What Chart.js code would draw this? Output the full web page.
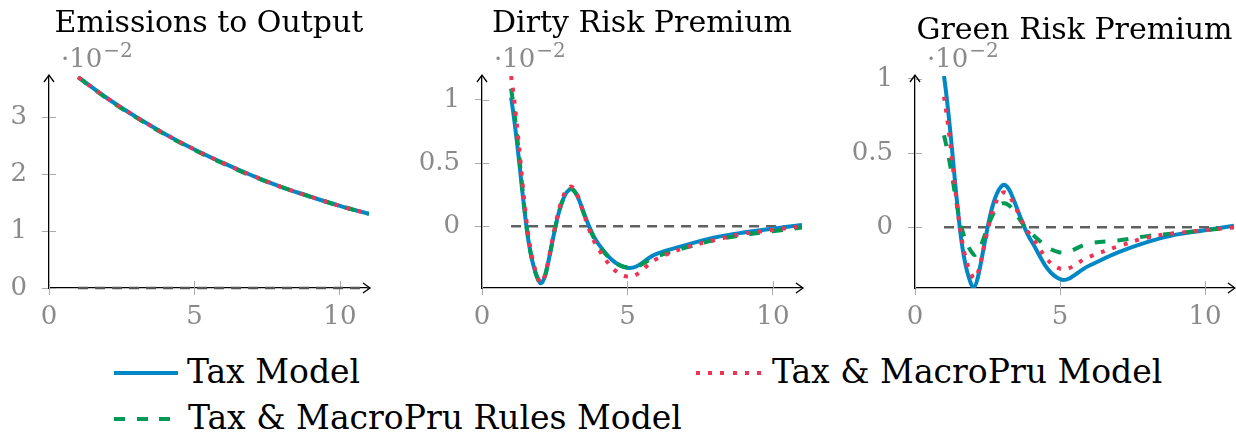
<!DOCTYPE html>
<html>
<head>
<meta charset="utf-8">
<script src="https://cdn.jsdelivr.net/npm/chart.js@4"></script>
<style>
  body { margin: 0; background: #fff; width: 1236px; height: 436px; position: relative; overflow: hidden; }
  canvas { position: absolute; top: 0; }
  .leg { position: absolute; font-family: "DejaVu Serif", serif; font-size: 33px; line-height: 40px; color: #000; white-space: nowrap; }
  .swatch { position: absolute; height: 4px; }
</style>
</head>
<body>
<canvas id="c1" width="412" height="340" style="left:0px"></canvas>
<canvas id="c2" width="412" height="340" style="left:412px"></canvas>
<canvas id="c3" width="412" height="340" style="left:824px"></canvas>

<div class="swatch" style="left:114px; top:371px; width:64px; background:#0088c6"></div>
<div class="leg" style="left:187px; top:352px">Tax Model</div>
<div class="swatch" style="left:696px; top:371px; width:66px; background:repeating-linear-gradient(90deg, #ee3355 0 4px, transparent 4px 12.2px)"></div>
<div class="leg" style="left:772px; top:352px">Tax &amp; MacroPru Model</div>
<div class="swatch" style="left:114px; top:417px; width:57px; background:repeating-linear-gradient(90deg, #009955 0 11px, transparent 11px 22.7px)"></div>
<div class="leg" style="left:188px; top:398px">Tax &amp; MacroPru Rules Model</div>

<script>
// horizon (quarters)
var xs = [1, 2, 3, 4, 5, 6, 7, 8, 9, 10, 11];
var zeroLine = [0, 0, 0, 0, 0, 0, 0, 0, 0, 0, 0];

// Emissions to Output (x 10^-2)
var emisTax   = [3.70, 3.33, 3.00, 2.70, 2.43, 2.19, 1.97, 1.77, 1.60, 1.44, 1.30];
var emisMacro = [3.70, 3.33, 3.00, 2.70, 2.43, 2.19, 1.97, 1.77, 1.60, 1.44, 1.30];
var emisRules = [3.70, 3.32, 2.99, 2.69, 2.42, 2.18, 1.96, 1.77, 1.60, 1.44, 1.30];

// Dirty Risk Premium (x 10^-2)
var dirtyTax   = [1.02, -0.45, 0.29, -0.14, -0.33, -0.22, -0.15, -0.09, -0.05, -0.02, 0.01];
var dirtyMacro = [1.19, -0.45, 0.31, -0.18, -0.40, -0.26, -0.17, -0.11, -0.06, -0.03, 0.00];
var dirtyRules = [1.09, -0.46, 0.29, -0.15, -0.33, -0.24, -0.17, -0.11, -0.07, -0.04, -0.01];

// Green Risk Premium (x 10^-2)
var greenTax   = [1.02, -0.41, 0.28, -0.09, -0.35, -0.26, -0.17, -0.10, -0.05, -0.02, 0.01];
var greenMacro = [0.88, -0.34, 0.23, -0.06, -0.28, -0.20, -0.13, -0.07, -0.04, -0.02, 0.00];
var greenRules = [0.62, -0.18, 0.16, -0.04, -0.17, -0.11, -0.09, -0.06, -0.04, -0.02, 0.00];

var xTicks = [0, 5, 10];

var BLUE = '#0088c6', RED = '#ee3355', GREEN = '#009955';
var TICK_GRAY = '#8a8a8a';
var SERIF = '"DejaVu Serif", serif';

function pts(arr) {
    return xs.map(function(x, i) { return {x: x, y: arr[i]}; });
}

// titles, the 10^-2 factor, axis arrows and inner tick marks
var decor = {
    id: 'decor',
    beforeDatasetsDraw: function(chart) {
        var ctx = chart.ctx, a = chart.chartArea, sx = chart.scales.x, sy = chart.scales.y;
        ctx.save();
        ctx.strokeStyle = '#aaa';
        ctx.lineWidth = 1;
        ctx.beginPath();
        sx.ticks.forEach(function(t) {
            var px = Math.round(sx.getPixelForValue(t.value)) + 0.5;
            ctx.moveTo(px, a.bottom); ctx.lineTo(px, a.bottom - 7);
        });
        sy.ticks.forEach(function(t) {
            var py = Math.round(sy.getPixelForValue(t.value)) + 0.5;
            ctx.moveTo(a.left, py); ctx.lineTo(a.left + 7, py);
        });
        ctx.stroke();
        ctx.restore();
    },
    afterDraw: function(chart, args, opts) {
        var ctx = chart.ctx, a = chart.chartArea;
        ctx.save();
        ctx.strokeStyle = '#000';
        ctx.lineWidth = 1.3;
        ctx.beginPath();
        ctx.moveTo(a.right - 6, a.bottom - 5); ctx.lineTo(a.right + 1, a.bottom); ctx.lineTo(a.right - 6, a.bottom + 5);
        ctx.moveTo(a.left - 5, a.top + 6); ctx.lineTo(a.left, a.top - 1); ctx.lineTo(a.left + 5, a.top + 6);
        ctx.stroke();

        ctx.fillStyle = '#000';
        ctx.font = '30px ' + SERIF;
        ctx.textAlign = 'center';
        ctx.textBaseline = 'alphabetic';
        ctx.fillText(opts.title, (a.left + a.right) / 2, opts.titleY);

        ctx.fillStyle = TICK_GRAY;
        ctx.textAlign = 'left';
        ctx.font = '26px ' + SERIF;
        var x0 = a.left + 12;
        ctx.fillText('\u00b710', x0, 67);
        var w = ctx.measureText('\u00b710').width;
        ctx.font = '20px ' + SERIF;
        ctx.fillText('\u22122', x0 + w + 1, 57);
        ctx.restore();
    }
};

function makeChart(id, title, titleY, tax, macro, rules, ymin, ymax, ystep, left, right, zeroStyle) {
    var ctx = document.getElementById(id).getContext('2d');
    return new Chart(ctx, {
        type: 'line',
        data: {
            datasets: [
                {label: 'Tax & MacroPru Model', data: pts(macro), borderColor: RED, borderWidth: 4,
                 borderDash: [4, 8], order: 0},
                {label: 'Tax & MacroPru Rules Model', data: pts(rules), borderColor: GREEN, borderWidth: 4,
                 borderDash: [11, 12], order: 1},
                {label: 'Tax Model', data: pts(tax), borderColor: BLUE, borderWidth: 4, order: 2},
                {label: 'zero', data: pts(zeroLine), borderColor: zeroStyle.color, borderWidth: zeroStyle.width,
                 borderDash: [10, 7], tension: 0, order: 3, clip: 6}
            ]
        },
        options: {
            responsive: false,
            animation: false,
            layout: {padding: {left: 0, right: 412 - right, top: 76, bottom: 0}},
            elements: {
                line: {tension: 0.4, fill: false},
                point: {radius: 0}
            },
            scales: {
                x: {
                    type: 'linear',
                    min: 0,
                    max: 11,
                    afterFit: function(s) { s.height = 52; },
                    afterBuildTicks: function(s) {
                        s.ticks = xTicks.map(function(v) { return {value: v}; });
                    },
                    border: {display: true, color: '#000', width: 1.3},
                    grid: {drawOnChartArea: false, drawTicks: true, tickLength: 7, color: '#aaa'},
                    ticks: {
                        padding: 7,
                        color: TICK_GRAY,
                        font: {family: SERIF, size: 26},
                        maxRotation: 0,
                        callback: function(v) { return String(v); }
                    }
                },
                y: {
                    type: 'linear',
                    min: ymin,
                    max: ymax,
                    afterFit: function(s) { s.width = left; },
                    afterBuildTicks: function(s) {
                        var out = [];
                        for (var v = 0; v <= ymax + 1e-9; v += ystep) out.push({value: Math.round(v * 100) / 100});
                        s.ticks = out;
                    },
                    border: {display: true, color: '#000', width: 1.3},
                    grid: {drawOnChartArea: false, drawTicks: true, tickLength: 7, color: '#aaa'},
                    ticks: {
                        padding: 15,
                        color: TICK_GRAY,
                        font: {family: SERIF, size: 26},
                        callback: function(v) { return String(v); }
                    }
                }
            },
            plugins: {
                legend: {display: false},
                tooltip: {enabled: false},
                decor: {title: title, titleY: titleY}
            }
        },
        plugins: [decor]
    });
}

makeChart('c1', 'Emissions to Output', 32, emisTax, emisMacro, emisRules, 0, 3.72, 1, 49, 369,
          {color: '#555', width: 2.5});
makeChart('c2', 'Dirty Risk Premium', 32, dirtyTax, dirtyMacro, dirtyRules, -0.49, 1.19, 0.5, 70, 390,
          {color: '#606060', width: 2.5});
makeChart('c3', 'Green Risk Premium', 39, greenTax, greenMacro, greenRules, -0.41, 1.02, 0.5, 91, 410,
          {color: '#606060', width: 2.5});
</script>
</body>
</html>
